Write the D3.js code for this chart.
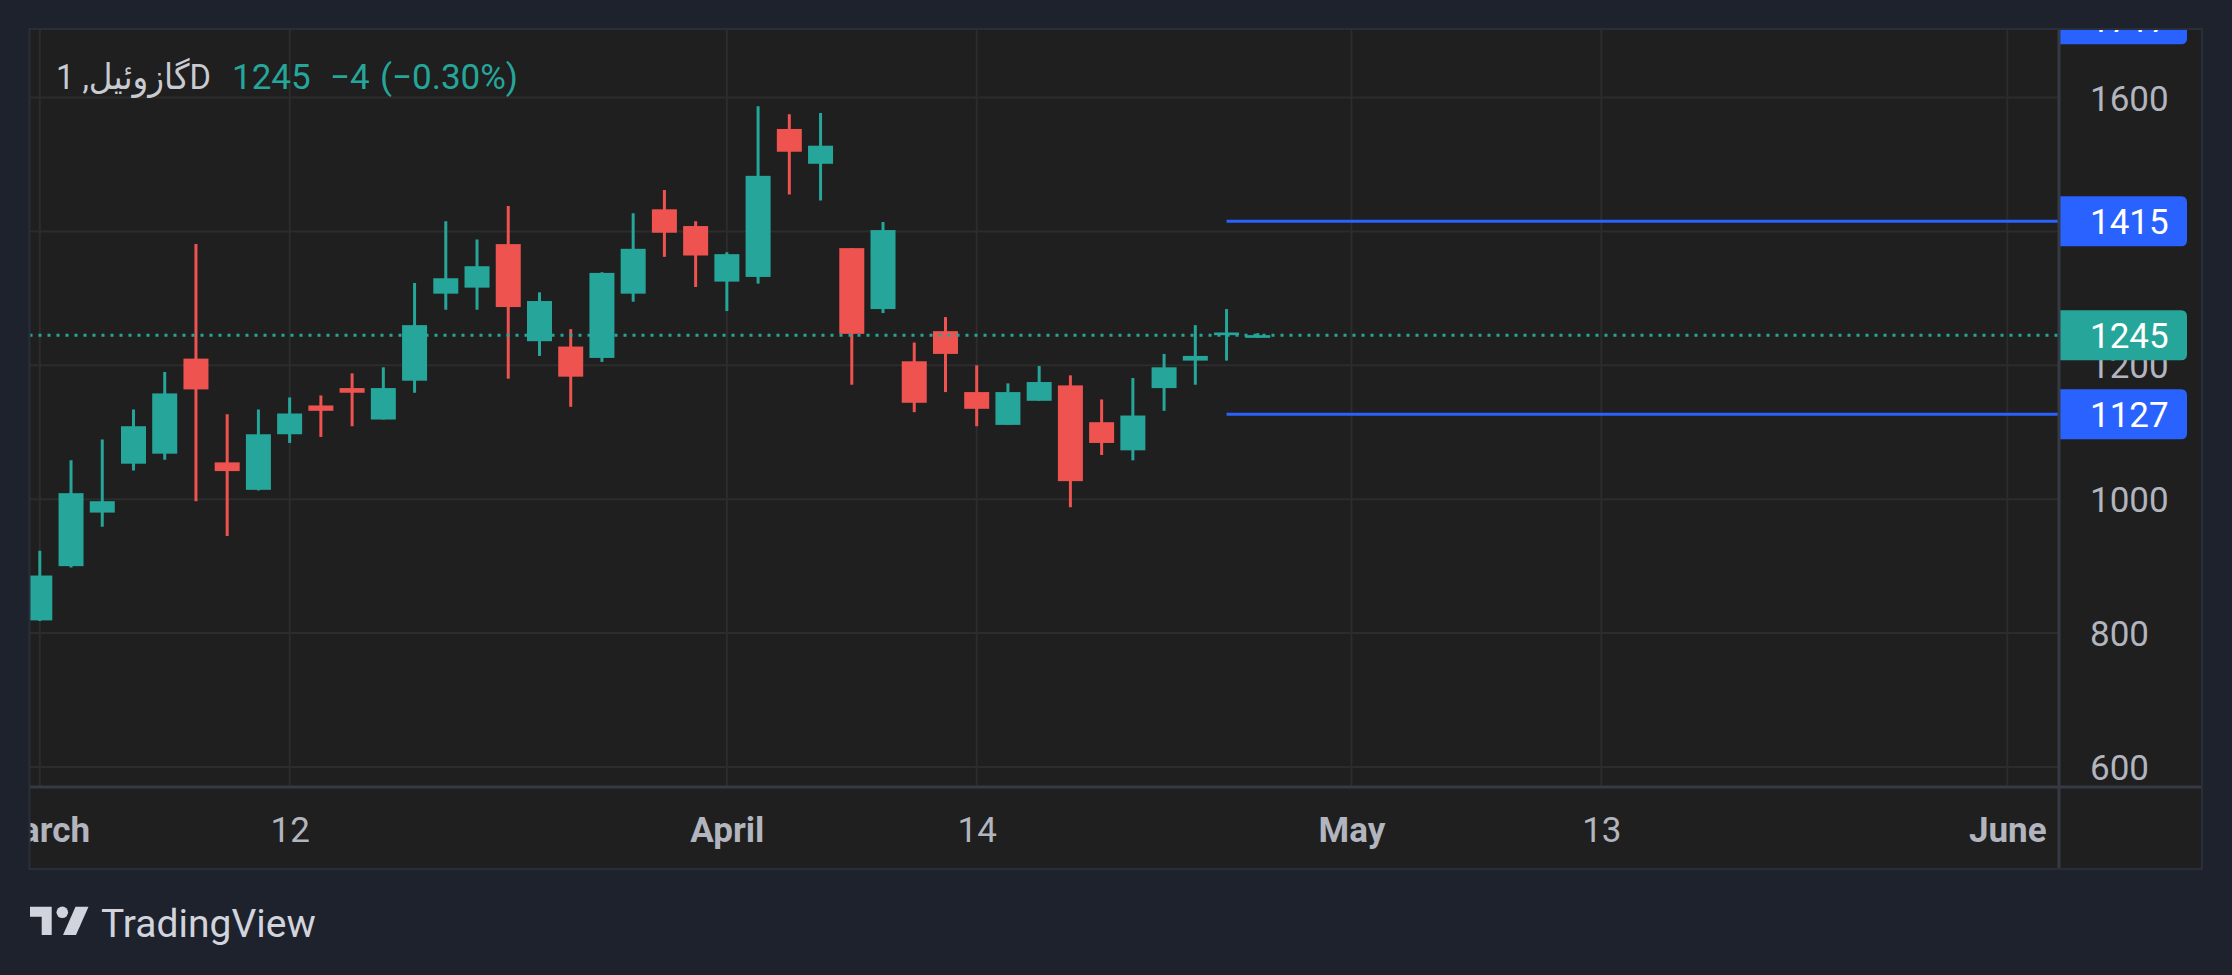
<!DOCTYPE html>
<html>
<head>
<meta charset="utf-8">
<script src="https://cdn.jsdelivr.net/npm/d3@7"></script>
<style>
  html, body { margin: 0; padding: 0; background: #1e222d; }
  svg { display: block; }
</style>
</head>
<body>
<svg id="chart" width="2232" height="975"></svg>
<script>
// ---- Data (daily candles) ----
const opens  = [819, 900, 980, 1053, 1068, 1210, 1055, 1014, 1097, 1140, 1166, 1119, 1177, 1307, 1316, 1381, 1236, 1228, 1211, 1307, 1433, 1408, 1325, 1332, 1553, 1501, 1375, 1284, 1206, 1251, 1160, 1111, 1147, 1170, 1115, 1073, 1166, 1207, 1245, 1241];
const highs  = [923, 1058, 1089, 1134, 1190, 1381, 1127, 1134, 1152, 1155, 1188, 1197, 1323, 1415, 1388, 1438, 1309, 1254, 1339, 1427, 1462, 1415, 1369, 1587, 1575, 1577, 1375, 1414, 1234, 1272, 1200, 1173, 1199, 1185, 1149, 1181, 1217, 1260, 1284, 1248];
const lows   = [818, 898, 959, 1043, 1059, 997, 945, 1013, 1084, 1093, 1109, 1119, 1159, 1283, 1283, 1180, 1214, 1138, 1205, 1295, 1362, 1317, 1281, 1322, 1455, 1446, 1171, 1278, 1130, 1160, 1109, 1111, 1147, 988, 1066, 1058, 1132, 1171, 1207, 1241];
const closes = [886, 1009, 997, 1109, 1158, 1164, 1042, 1097, 1128, 1132, 1159, 1166, 1260, 1330, 1348, 1287, 1296, 1183, 1338, 1374, 1398, 1364, 1366, 1483, 1519, 1528, 1247, 1402, 1144, 1217, 1135, 1160, 1175, 1027, 1084, 1125, 1197, 1214, 1249, 1245];

const timeTickIndex  = [0, 8, 22, 30, 42, 50, 63];
const timeTickLabels = ["March", "12", "April", "14", "May", "13", "June"];
const timeTickBold   = [true, false, true, false, true, false, true];

const priceGrid  = [600, 800, 1000, 1200, 1400, 1600, 1800];
const priceTicks = [600, 800, 1000, 1200, 1600];   // 1400 is hidden behind the 1415 label

const levelValues = [1717, 1415, 1127];   // horizontal lines (blue)
const levelStartIndex = 38;
const lastPrice = 1245;

const legendTitle = "گازوئیل, 1D";
const legendClose = "1245";
const legendChange = "−4";
const legendPct = "(−0.30%)";

// ---- Layout ----
const W = 2232, H = 975;
const panel = { x0: 29.5, y0: 29, x1: 2202, y1: 869 };
const plot  = { x0: 29.5, y0: 29, x1: 2059, y1: 787 };
const FONT = "Roboto, 'DejaVu Sans', 'Noto Sans', sans-serif";
const UP = "#26a69a", DOWN = "#ef5350", BLUE = "#2962ff";
const GRID = "#2c2c2c", TXT = "#b2b5be";

const svg = d3.select("#chart");

const x = d3.scaleLinear().domain([0, 63]).range([39.8, 2007.3]);
const y = d3.scaleLinear().domain([600, 1600]).range([767, 97.5]);

const candles = opens.map((o, i) => ({ i, o, h: highs[i], l: lows[i], c: closes[i] }));

const defs = svg.append("defs");
defs.append("clipPath").attr("id", "plotClip").append("rect")
  .attr("x", plot.x0).attr("y", plot.y0).attr("width", plot.x1 - plot.x0).attr("height", plot.y1 - plot.y0);
defs.append("clipPath").attr("id", "axisClip").append("rect")
  .attr("x", plot.x1).attr("y", plot.y0).attr("width", panel.x1 - plot.x1).attr("height", plot.y1 - plot.y0);
defs.append("clipPath").attr("id", "timeClip").append("rect")
  .attr("x", plot.x0).attr("y", plot.y1).attr("width", plot.x1 - plot.x0).attr("height", panel.y1 - plot.y1);

// background
svg.append("rect").attr("width", W).attr("height", H).attr("fill", "#1e222d");
svg.append("rect")
  .attr("x", panel.x0).attr("y", panel.y0)
  .attr("width", panel.x1 - panel.x0).attr("height", panel.y1 - panel.y0)
  .attr("fill", "#1f1f1f");

// grid
const gridG = svg.append("g").attr("clip-path", "url(#plotClip)");
gridG.selectAll("line.h").data(priceGrid).join("line")
  .attr("x1", plot.x0).attr("x2", plot.x1)
  .attr("y1", d => y(d)).attr("y2", d => y(d))
  .attr("stroke", GRID).attr("stroke-width", 2);
gridG.selectAll("line.v").data(timeTickIndex).join("line")
  .attr("x1", d => x(d)).attr("x2", d => x(d))
  .attr("y1", plot.y0).attr("y2", plot.y1)
  .attr("stroke", GRID).attr("stroke-width", 2);

// candles
const cg = svg.append("g").attr("clip-path", "url(#plotClip)");
const bodyW = 25;
cg.selectAll("line.wick").data(candles).join("line")
  .attr("x1", d => x(d.i)).attr("x2", d => x(d.i))
  .attr("y1", d => y(d.h)).attr("y2", d => y(d.l))
  .attr("stroke", d => d.c >= d.o ? UP : DOWN).attr("stroke-width", 3);
cg.selectAll("rect.body").data(candles).join("rect")
  .attr("x", d => x(d.i) - bodyW / 2)
  .attr("width", bodyW)
  .attr("y", d => y(Math.max(d.o, d.c)))
  .attr("height", d => Math.max(2, Math.abs(y(d.o) - y(d.c))))
  .attr("fill", d => d.c >= d.o ? UP : DOWN);

// last price dotted line
cg.append("line")
  .attr("x1", plot.x0).attr("x2", plot.x1)
  .attr("y1", y(lastPrice)).attr("y2", y(lastPrice))
  .attr("stroke", UP).attr("stroke-width", 3).attr("stroke-dasharray", "3,6");

// horizontal levels
cg.selectAll("line.level").data(levelValues).join("line")
  .attr("x1", x(levelStartIndex)).attr("x2", plot.x1)
  .attr("y1", d => y(d)).attr("y2", d => y(d))
  .attr("stroke", BLUE).attr("stroke-width", 3);

// price axis
const pa = svg.append("g").attr("clip-path", "url(#axisClip)")
  .append("g")
  .attr("transform", `translate(${plot.x1},0)`)
  .call(d3.axisRight(y).tickValues(priceTicks).tickSize(0).tickPadding(31).tickFormat(d3.format("d")));
pa.attr("font-family", null).attr("font-size", null);
pa.select(".domain").remove();
pa.selectAll("text")
  .attr("font-family", FONT).attr("font-size", 35).attr("fill", TXT)
  .attr("text-anchor", "start").attr("dy", "0.36em");

// price label boxes
const boxH = 50, boxX0 = plot.x1, boxX1 = 2187, r = 6;
function boxPath(cy) {
  const t = cy - boxH / 2, b = cy + boxH / 2;
  return `M${boxX0},${t}H${boxX1 - r}Q${boxX1},${t} ${boxX1},${t + r}V${b - r}Q${boxX1},${b} ${boxX1 - r},${b}H${boxX0}Z`;
}
const labels = levelValues.map(v => ({ v, color: BLUE })).concat([{ v: lastPrice, color: UP }]);
const lg = svg.append("g").attr("clip-path", "url(#axisClip)");
const lab = lg.selectAll("g").data(labels).join("g");
lab.append("path").attr("d", d => boxPath(y(d.v))).attr("fill", d => d.color);
lab.append("text")
  .attr("x", 2090).attr("y", d => y(d.v)).attr("dy", "0.36em")
  .attr("font-family", FONT).attr("font-size", 35).attr("fill", "#ffffff")
  .text(d => d3.format("d")(d.v));

// time axis
const ta = svg.append("g").attr("clip-path", "url(#timeClip)")
  .append("g")
  .attr("transform", `translate(0,${plot.y1})`)
  .call(d3.axisBottom(x).tickValues(timeTickIndex).tickSize(0).tickPadding(0)
    .tickFormat((d, k) => timeTickLabels[k]));
ta.attr("font-family", null).attr("font-size", null);
ta.select(".domain").remove();
ta.selectAll("text")
  .attr("font-family", FONT).attr("font-size", 35).attr("fill", TXT)
  .attr("y", 55).attr("dy", 0)
  .attr("font-weight", (d, k) => timeTickBold[k] ? 700 : 400);

// separators and frame
svg.append("line").attr("x1", plot.x1).attr("x2", plot.x1).attr("y1", panel.y0).attr("y2", panel.y1)
  .attr("stroke", "#363a45").attr("stroke-width", 3);
svg.append("line").attr("x1", panel.x0).attr("x2", panel.x1).attr("y1", plot.y1).attr("y2", plot.y1)
  .attr("stroke", "#363a45").attr("stroke-width", 3);
svg.append("rect")
  .attr("x", panel.x0).attr("y", panel.y0)
  .attr("width", panel.x1 - panel.x0).attr("height", panel.y1 - panel.y0)
  .attr("fill", "none").attr("stroke", "#2a2e39").attr("stroke-width", 2);

// legend
const legend = svg.append("g").attr("font-family", FONT).attr("font-size", 35);
legend.append("text").attr("x", 56).attr("y", 89).attr("fill", "#c9cbd2")
  .attr("textLength", 155).attr("lengthAdjust", "spacingAndGlyphs").text(legendTitle);
legend.append("text").attr("x", 232).attr("y", 89).attr("fill", UP).text(legendClose);
legend.append("text").attr("x", 330).attr("y", 89).attr("fill", UP).text(legendChange);
legend.append("text").attr("x", 380).attr("y", 89).attr("fill", UP).text(legendPct);

// TradingView logo
const logo = svg.append("g").attr("fill", "#d1d4dc");
logo.append("path").attr("d", "M30,906.7H51.7V935H41.7V916.7H30Z");
logo.append("circle").attr("cx", 62.3).attr("cy", 912.3).attr("r", 5.8);
logo.append("path").attr("d", "M75.5,906.7H88.5L76,935H63Z");
logo.append("text").attr("x", 101).attr("y", 936.5)
  .attr("font-family", FONT).attr("font-size", 39).text("TradingView");
</script>
</body>
</html>
